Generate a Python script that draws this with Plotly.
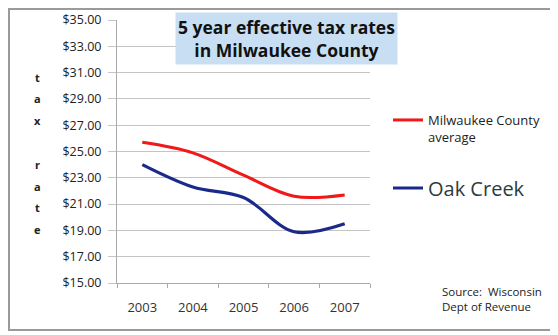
import plotly.graph_objects as go

years = ["2003", "2004", "2005", "2006", "2007"]
milwaukee_avg = [25.7, 24.9, 23.2, 21.6, 21.7]
oak_creek = [24.0, 22.3, 21.5, 18.9, 19.5]
y_ticks = [15, 17, 19, 21, 23, 25, 27, 29, 31, 33, 35]
y_tick_labels = [f"${v:.2f}" for v in y_ticks]
axis_letters = ["t", "a", "x", "r", "a", "t", "e"]

# page body has an 8px margin; figure is sized to fill the rest of the window
OFF = 8
PL, PR, PT, PB = 117, 370, 20, 283  # plot area in window pixels
W, H = 558 - OFF, 335 - OFF
L, R, T, B = PL - OFF, 558 - PR, PT - OFF, 335 - PB
pw, ph = W - L - R, H - T - B

def px(x):
    return (x - PL) / pw

def py(y):
    return (PB - y) / ph

font_family = "'Open Sans', sans-serif"

fig = go.Figure()
fig.add_trace(go.Scatter(
    x=years, y=milwaukee_avg, mode="lines", line=dict(color="#f01818", width=3, shape="spline"),
    name="Milwaukee County<br>average", legend="legend"))
fig.add_trace(go.Scatter(
    x=years, y=oak_creek, mode="lines", line=dict(color="#1b2a8a", width=3.2, shape="spline"),
    name="Oak Creek", legend="legend2"))

annotations = [
    dict(text="<b>5 year effective tax rates<br>in Milwaukee County</b>", xref="paper", yref="paper",
         x=px(286), y=py(39), xanchor="center", yanchor="middle", showarrow=False,
         font=dict(family=font_family, size=17.5, color="#111"), bgcolor="#c8def2",
         borderpad=2),
    dict(text="Source:  Wisconsin<br>Dept of Revenue", xref="paper", yref="paper",
         x=px(440), y=py(299), xanchor="left", yanchor="middle", showarrow=False, align="left",
         font=dict(family=font_family, size=11.5, color="#222")),
]
letter_y = [77, 98, 120, 164, 186, 207, 229]
for ch, yy in zip(axis_letters, letter_y):
    annotations.append(dict(text=f"<b>{ch}</b>", xref="paper", yref="paper", x=px(37), y=py(yy),
                            xanchor="center", yanchor="middle", showarrow=False,
                            font=dict(family=font_family, size=11, color="#222")))

fig.update_layout(
    width=W, height=H, margin=dict(l=L, r=R, t=T, b=B),
    paper_bgcolor="white", plot_bgcolor="white", showlegend=True,
    font=dict(family=font_family, size=10, color="#222"),
    xaxis=dict(type="category", range=[-0.5, 4.5], showgrid=False, showline=True, linecolor="#aaa",
               linewidth=1, ticks="outside", tickson="boundaries", ticklen=4, tickcolor="#aaa",
               tickfont=dict(size=13, color="#333"), ticklabelstandoff=12, automargin=False),
    yaxis=dict(range=[15, 35], tickvals=y_ticks, ticktext=y_tick_labels, showgrid=True,
               gridcolor="#c4c4c4", showline=True, linecolor="#aaa", zeroline=False,
               ticks="outside", ticklen=8, tickcolor="#c4c4c4", ticklabelstandoff=4,
               tickfont=dict(size=12.5, color="#222"), automargin=False),
    legend=dict(x=px(388), y=py(105), xanchor="left", yanchor="top", valign="top",
                bgcolor="rgba(0,0,0,0)", font=dict(size=13, color="#222"), itemwidth=30),
    legend2=dict(x=px(388), y=py(168.5), xanchor="left", yanchor="top",
                 bgcolor="rgba(0,0,0,0)", font=dict(size=20, color="#2c3b3b"), itemwidth=30),
    annotations=annotations,
    shapes=[dict(type="rect", xref="paper", yref="paper", x0=px(9), x1=px(551), y0=py(330), y1=py(9),
                 line=dict(color="#9a9a9a", width=2), layer="below")],
)

fig.write_html("out.html")
